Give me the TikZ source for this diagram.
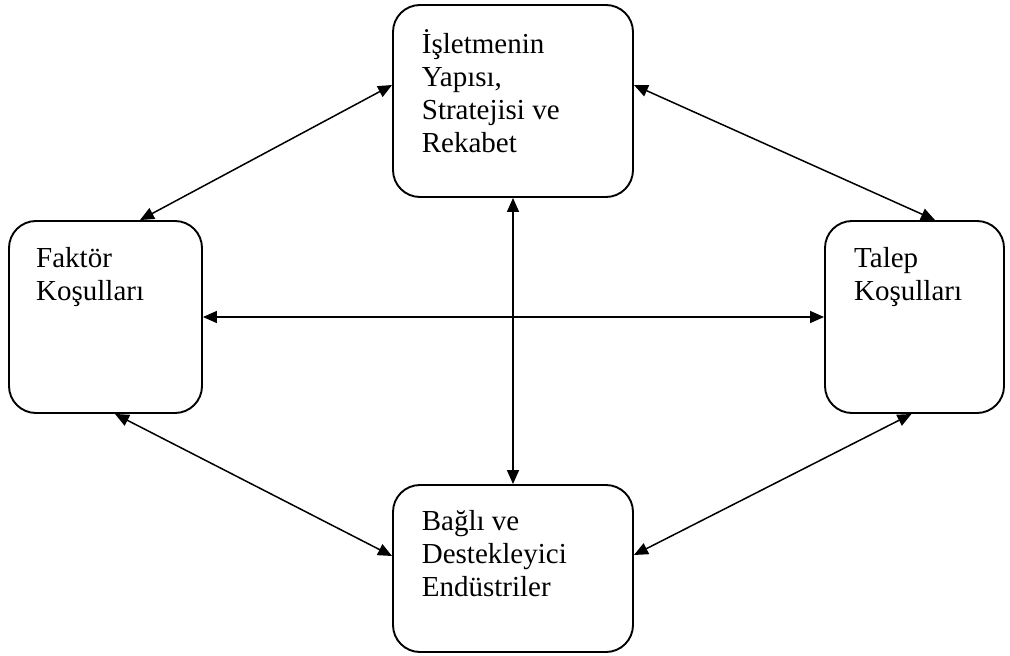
\documentclass[tikz,border=0pt]{standalone}
\usepackage{fontspec}
\setmainfont{Liberation Serif}
\usetikzlibrary{arrows.meta}
\begin{document}
\begin{tikzpicture}[x=1pt,y=-1pt,
  box/.style={draw,line width=1.9pt,rounded corners=27pt,inner sep=0pt},
  lbl/.style={anchor=base west,inner sep=0pt,align=left,font=\fontsize{29}{33}\selectfont},
  conn/.style={line width=1.5pt,{Triangle[length=14pt,width=12pt]}-{Triangle[length=14pt,width=12pt]}}]
\useasboundingbox (0,0) rectangle (1010,656);
\node[box,minimum width=240pt,minimum height=192pt] (top) at (513,101) {};
\node[box,minimum width=193pt,minimum height=192pt] (left) at (105.5,317) {};
\node[box,minimum width=179pt,minimum height=192pt] (right) at (914.5,317) {};
\node[box,minimum width=240pt,minimum height=167pt] (bot) at (513,568.5) {};
\node[lbl] (ttop) at (421.7,152) {İşletmenin\\Yapısı,\\Stratejisi ve\\Rekabet};
\node[lbl] (tleft) at (36,300) {Faktör\\Koşulları};
\node[lbl] (tright) at (854,300) {Talep\\Koşulları};
\node[lbl] (tbot) at (421.7,596.5) {Bağlı ve\\Destekleyici\\Endüstriler};
\draw[conn] ([yshift=16pt]top.west) -- ([xshift=34.5pt]left.north);
\draw[conn] ([yshift=16pt]top.east) -- ([xshift=20.5pt]right.north);
\draw[conn] (left.east) -- (right.west);
\draw[conn] (top.south) -- (bot.north);
\draw[conn] ([xshift=9.5pt]left.south) -- ([yshift=12.5pt]bot.west);
\draw[conn] ([xshift=-3pt]right.south) -- ([yshift=13.5pt]bot.east);
\end{tikzpicture}
\end{document}
